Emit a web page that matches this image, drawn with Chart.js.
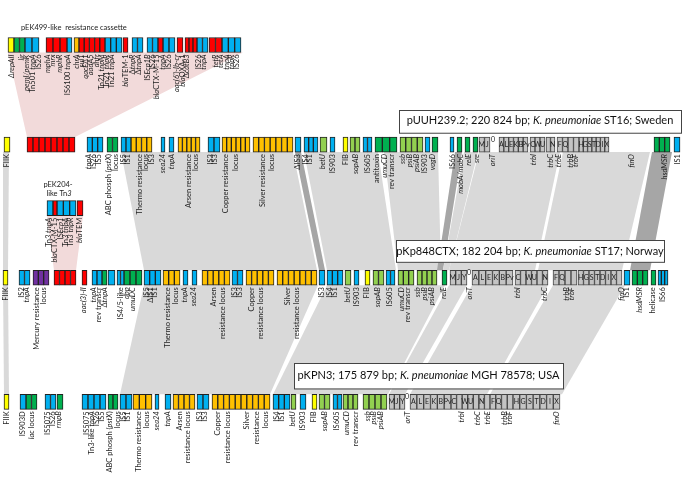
<!DOCTYPE html>
<html>
<head>
<meta charset="utf-8">
<script src="https://cdn.jsdelivr.net/npm/chart.js@4/dist/chart.umd.min.js"></script>
<style>body{margin:0;background:#fff}</style>
</head>
<body>
<canvas id="myChart" width="683" height="490"></canvas>
<script>
// rows of the map (y) and positions along the map (x)
var trackY = {cassette: 25, track1: 134.5, tn3: 204.5, track2: 281, track3: 417.5};
var BOX_H = 15;
var FONT = 'Lato, "Open Sans", sans-serif';

// gene boxes: [start, end, number of boxes, type]
var cassetteBoxes = [
  [8, 14, 1, 'yellow'], [14, 25, 2, 'green'], [25, 39, 2, 'blue'],
  [46, 67, 3, 'red'], [67, 72, 1, 'blue'], [74, 79, 1, 'orange'], [79, 105, 5, 'red'],
  [105, 122, 3, 'blue'], [123, 128, 1, 'red'], [132, 143, 2, 'blue'],
  [147, 158, 2, 'blue'], [158, 163, 1, 'red'], [163, 175, 2, 'blue'], [177, 183, 1, 'red'],
  [185, 197, 3, 'red'], [197, 208, 2, 'blue'], [209, 222, 2, 'red'], [222, 241, 3, 'blue']
];
var tn3Boxes = [
  [47, 53, 1, 'blue'], [53, 57, 1, 'red'], [57, 76, 3, 'blue'], [77, 83, 1, 'red']
];
var track1Boxes = [
  [4, 10, 1, 'yellow'], [27, 75, 8, 'red'], [87, 103, 3, 'blue'], [107, 118, 2, 'green'],
  [121, 131, 2, 'blue'], [131, 152, 4, 'orange'], [161, 165, 1, 'blue'], [169, 174, 1, 'blue'],
  [178, 200, 5, 'orange'], [208, 220, 2, 'blue'], [222, 250, 6, 'orange'], [253, 293, 7, 'orange'],
  [295, 301, 1, 'blue'], [304, 318, 3, 'blue'], [320, 327, 1, 'lgreen'], [330, 335, 1, 'blue'],
  [343, 348, 1, 'yellow'], [350, 360, 2, 'lgreen'], [363, 372, 2, 'blue'], [375, 397, 3, 'green'],
  [400, 423, 4, 'lgreen'], [425, 430, 1, 'blue'], [432, 438, 1, 'green'], [450, 454, 1, 'blue'],
  [457, 462, 1, 'green'], [465, 470, 1, 'green'], [473, 478, 1, 'green'],
  [654, 670, 3, 'green'], [674, 680, 1, 'blue']
];
var track2Boxes = [
  [3, 8, 1, 'yellow'], [19, 30, 2, 'blue'], [33, 49, 3, 'purple'], [54, 76, 4, 'red'],
  [82, 87, 1, 'red'], [92, 102, 2, 'blue'], [102, 107, 1, 'green'], [108, 115, 1, 'blue'],
  [117, 124, 2, 'blue'], [124, 142, 3, 'green'], [144, 161, 3, 'blue'], [163, 180, 3, 'orange'],
  [183, 188, 1, 'blue'], [192, 197, 1, 'blue'], [202, 230, 5, 'orange'], [232, 243, 2, 'blue'],
  [246, 274, 5, 'orange'], [277, 317, 7, 'orange'], [319, 325, 1, 'blue'], [327, 343, 3, 'blue'],
  [345, 351, 1, 'lgreen'], [354, 359, 1, 'blue'], [365, 370, 1, 'yellow'], [373, 384, 2, 'lgreen'],
  [386, 395, 2, 'blue'], [398, 414, 3, 'lgreen'], [417, 437, 4, 'lgreen'], [442, 447, 1, 'green'],
  [624, 630, 1, 'blue'], [632, 648, 3, 'green'], [651, 656, 1, 'green'], [658, 668, 3, 'blue']
];
var track3Boxes = [
  [4, 9, 1, 'yellow'], [20, 26, 1, 'blue'], [26, 37, 2, 'green'], [45, 56, 2, 'blue'],
  [57, 63, 1, 'green'], [82, 106, 4, 'blue'], [108, 118, 2, 'green'], [120, 132, 2, 'blue'],
  [133, 152, 3, 'orange'], [155, 159, 1, 'blue'], [165, 171, 1, 'blue'], [173, 195, 4, 'orange'],
  [197, 209, 2, 'blue'], [212, 270, 10, 'orange'], [273, 290, 3, 'blue'], [291, 296, 1, 'lgreen'],
  [300, 306, 1, 'blue'], [312, 317, 1, 'yellow'], [319, 330, 2, 'lgreen'], [333, 342, 2, 'blue'],
  [343, 358, 3, 'lgreen'], [363, 387, 4, 'lgreen']
];

// tra genes: [start, end, letters]
var track1Tra = [
  [479, 490, ['M', 'J']], [499, 528, ['A', 'L', 'E', 'K', 'B', 'Pv']], [530, 545, ['C', 'W', 'U']],
  [546, 555, ['', 'N']], [557, 568, ['F', 'Q']], [568, 579, ['', '']],
  [579, 609, ['H', 'G', 'S', 'T', 'D', 'I', 'X']]
];
var track2Tra = [
  [450, 467, ['M', 'J', 'Y']], [472, 513, ['A', 'L', 'E', 'K', 'B', 'Pv']], [515, 548, ['C', '', 'W', 'U', '', 'N']],
  [553, 577, ['F', 'Q', '', '']], [578, 622, ['H', 'G', 'S', 'T', 'D', 'I', 'X', '']]
];
var track3Tra = [
  [389, 405, ['M', 'J', 'Y']], [410, 451, ['A', 'L', 'E', 'K', 'B', 'Pv']], [451, 490, ['C', '', 'W', 'U', '', 'N', '']],
  [490, 513, ['F', 'Q', '', '']], [513, 560, ['H', 'G', 'S', 'T', 'D', 'I', 'X']]
];
var oriMarks = [['track1', 493], ['track2', 469], ['track3', 407]];

// labels under boxes: [position, text], *...* = italic
var cassetteLabels = [
  [12, '*ΔrepAII*'], [22, '*lir*'], [27, '*pemI/pemK*'], [33, 'Tn501 *tnpA*'], [39, 'IS26'],
  [48, '*mphA*'], [53, '*mrx*'], [60, '*mphR*'], [68, 'IS6100 *tnpA*'], [77, '*chrA*'],
  [82, '*sul1*'], [86, '*qacEΔ1*'], [91, '*aadA5*'], [97, '*dhfr*'], [102, 'Tn21 *tnpM*'],
  [107, 'Tn21 *tnpR*'], [112, 'Tn21 *tnpA*'], [126, '*bla*TEM-1'], [133, 'Δ*tnpR*'], [139, 'Δ*tnpA*'],
  [148, 'IS*Ecp1B*'], [153, 'IS26'], [157, '*bla*CTX-M-15'], [163, '*tnpA*'], [169, 'IS26'],
  [177, "*aac(6')-Ib-cr*"], [183, '*bla*OXA-1'], [187, 'Δ*catB3*'], [199, 'IS26'], [204, '*tnpA*'],
  [216, '*tetR*'], [221, '*tetA*'], [227, '*tnpA*'], [232, '*tnpR*'], [237, 'IS26']
];
var tn3Labels = [
  [49, 'Tn*3 tnpA*'], [55, '*bla*CTX-M-15'], [61, 'IS*Ecp1*'], [66, 'Tn*3 tnpA*'], [71, 'Tn*3 tnpR*'], [80, '*bla*TEM']
];
var track1Labels = [
  [7, 'FIIK'], [89, '*tnpA*'], [94, 'IS26'], [99, 'IS5'], [109, 'ABC phosph (*pstX*)'], [116, 'locus'],
  [124, 'IS5'], [128, 'IS1'], [140, 'Thermo resistance'], [146, 'locus'], [152, 'IS3'], [163, '*sea24*'],
  [172, '*tnpA*'], [189, 'Arsen resistance'], [196, 'locus'], [211, 'IS3'], [215, 'IS3'],
  [226, 'Copper resistance'], [236, 'locus'], [263, 'Silver resistance'], [272, 'locus'], [298, 'ΔIS3'],
  [306, 'IS4'], [310, 'IS1'], [323, '*betU*'], [333, 'IS903'], [346, 'FIB'], [356, '*sopAB*'],
  [368, 'IS605'], [377, 'antitoxin'], [385, '*umuCD*'], [392, 'rev transcr'], [403, '*ssb*'],
  [410, '*psiB*'], [417, '*psiAB*'], [425, 'IS903'], [433, '*vagD*'], [453, 'IS66'], [461, '*mobA/mobC*'],
  [469, '*relE*'], [477, '*sre*'], [493, '*oriT*'], [534, '*trbI*'], [551, '*trbC*'], [559, '*trbE*'],
  [571, '*trbB*'], [576, '*trbF*'], [632, '*finO*'], [665, '*hsdMSR*'], [678, 'IS1']
];
var track2Labels = [
  [6, 'FIIK'], [22, 'IS2'], [27, '*tnpA*'], [37, 'Mercury resistance'], [44, 'locus'], [84, '*aac(3)-II*'],
  [94, '*tnpA*'], [99, 'rev transcr'], [105, 'Δ*tnpA*'], [121, 'IS4/5-like'], [127, '*dbp*'], [133, '*umuDC*'],
  [147, 'IS5'], [151, 'ΔIS1'], [155, 'IS1'], [168, 'Thermo resistance'], [176, 'locus'], [185, '*tnpA*'],
  [194, '*sea24*'], [214, 'Arsen'], [223, 'resistance locus'], [235, 'IS3'], [240, 'IS3'], [252, 'Copper'],
  [261, 'resistance locus'], [288, 'Silver'], [297, 'resistance locus'], [322, 'IS3'], [330, 'IS4'],
  [335, 'IS1'], [348, '*betU*'], [357, 'IS903'], [367, 'FIB'], [378, '*sopAB*'], [390, 'IS605'],
  [402, '*umuCD*'], [408, 'rev transcr'], [418, '*ssb*'], [425, '*psiB*'], [432, '*psiAB*'], [444, '*relE*'],
  [470, '*oriT*'], [518, '*trbI*'], [545, '*trbC*'], [567, '*trbB*'], [572, '*trbF*'], [622, '*finO*'],
  [627, 'IS1'], [640, '*hsdMSR*'], [653, 'helicase'], [663, 'IS66']
];
var track3Labels = [
  [7, 'FIIK'], [23, 'IS903D'], [32, '*lac* locus'], [48, 'IS5075'], [53, 'IS26'], [59, '*rmpB*'],
  [87, 'IS5075'], [92, 'Tn3-like *tnpA*'], [97, 'IS26'], [102, 'IS5'], [110, 'ABC phosph (*pstX*)'],
  [118, 'locus'], [124, 'IS5'], [128, 'IS1'], [139, 'Thermo resistance'], [147, 'locus'], [157, '*sea24*'],
  [168, '*tnpA*'], [180, 'Arsen'], [188, 'resistance locus'], [200, 'IS3'], [205, 'IS3'], [218, 'Copper'],
  [228, 'resistance locus'], [247, 'Silver'], [257, 'resistance'], [266, 'locus'], [277, 'IS4'], [282, 'IS1'],
  [293, '*betU*'], [303, 'IS903'], [314, 'FIB'], [325, '*sopAB*'], [337, 'IS605'], [347, '*umuCD*'],
  [356, 'rev transcr'], [368, '*ssb*'], [374, '*psiB*'], [381, '*psiAB*'], [408, '*oriT*'], [462, '*trbI*'],
  [478, '*trbC*'], [488, '*trbE*'], [505, '*trbB*'], [510, '*trbF*'], [557, '*finO*']
];

// homology blocks: [upper row, start, end, lower row, start, end, shade]
var links = [
  ['cassette', 8, 243, 'track1', 27, 75, 'pink'],
  ['tn3', 47, 83, 'track2', 54, 76, 'pink'],
  ['track1', 3, 9, 'track2', 3, 8, 'light'],
  ['track1', 121, 293, 'track2', 144, 317, 'light'],
  ['track1', 295, 301, 'track2', 319, 325, 'dark'],
  ['track1', 304, 378, 'track2', 327, 396, 'light'],
  ['track1', 384, 438, 'track2', 398, 441, 'light'],
  ['track1', 455, 462, 'track2', 437, 443, 'dark'],
  ['track1', 464, 478, 'track2', 443, 449, 'light'],
  ['track1', 479, 560, 'track2', 449, 535, 'light'],
  ['track1', 563, 650, 'track2', 538, 622, 'light'],
  ['track1', 652, 672, 'track2', 630, 650, 'dark'],
  ['track2', 3, 8, 'track3', 4, 9, 'light'],
  ['track2', 144, 318, 'track3', 120, 270, 'light'],
  ['track2', 327, 445, 'track3', 273, 388, 'light'],
  ['track2', 449, 467, 'track3', 389, 405, 'light'],
  ['track2', 472, 548, 'track3', 410, 487, 'light'],
  ['track2', 553, 625, 'track3', 490, 562, 'light']
];

// plasmid name boxes: [x1, y1, x2, y2, text]
var plasmidTitles = [
  [399, 96, 681, 121, 'pUUH239.2; 220 824 bp; *K. pneumoniae* ST16; Sweden'],
  [396, 240, 664, 264, 'pKp848CTX; 182 204 bp; *K. pneumoniae* ST17; Norway'],
  [294, 375, 563, 403, 'pKPN3; 175 879 bp; *K. pneumoniae* MGH 78578; USA']
];

var typeColors = {
  red: '#ff0000', blue: '#00b0f0', green: '#00b050', lgreen: '#92d050',
  orange: '#ffc000', yellow: '#ffff00', purple: '#7030a0', gray: '#c4c4c4'
};
var shadeColors = {pink: '#f2dada', light: '#d9d9d9', dark: '#a6a6a6'};

var boxData = {};
Object.keys(typeColors).forEach(function (k) { boxData[k] = []; });
function addBoxes(list, row) {
  list.forEach(function (b) {
    var w = (b[1] - b[0]) / b[2];
    for (var i = 0; i < b[2]; i++) {
      boxData[b[3]].push({x: [b[0] + i * w, b[0] + (i + 1) * w], y: trackY[row]});
    }
  });
}
function addTra(list, row) {
  list.forEach(function (g) {
    addBoxes([[g[0], g[1], g[2].length, 'gray']], row);
  });
}
addBoxes(cassetteBoxes, 'cassette');
addBoxes(tn3Boxes, 'tn3');
addBoxes(track1Boxes, 'track1');
addBoxes(track2Boxes, 'track2');
addBoxes(track3Boxes, 'track3');
addTra(track1Tra, 'track1');
addTra(track2Tra, 'track2');
addTra(track3Tra, 'track3');

var datasets = Object.keys(typeColors).map(function (k) {
  return {
    label: k,
    data: boxData[k],
    backgroundColor: typeColors[k],
    borderColor: k === 'gray' ? '#444' : '#222',
    borderWidth: 1,
    borderSkipped: false,
    barThickness: BOX_H,
    grouped: false
  };
});

// draws mixed upright/italic text, split on '*'
function richText(ctx, str, size, align, x, y) {
  var parts = str.split('*');
  var widths = parts.map(function (p, i) {
    ctx.font = (i % 2 ? 'italic ' : '') + size + 'px ' + FONT;
    return ctx.measureText(p).width;
  });
  var total = widths.reduce(function (a, b) { return a + b; }, 0);
  var start = align === 'right' ? x - total : align === 'center' ? x - total / 2 : x;
  parts.forEach(function (p, i) {
    ctx.font = (i % 2 ? 'italic ' : '') + size + 'px ' + FONT;
    ctx.fillText(p, start, y);
    start += widths[i];
  });
}

var mapPlugin = {
  id: 'plasmidMap',
  beforeDatasetsDraw: function (chart) {
    var ctx = chart.ctx, xs = chart.scales.x, ys = chart.scales.y;
    ctx.save();
    links.forEach(function (l) {
      var top = ys.getPixelForValue(trackY[l[0]]) + BOX_H / 2;
      var bot = ys.getPixelForValue(trackY[l[3]]) - BOX_H / 2;
      ctx.fillStyle = shadeColors[l[6]];
      ctx.beginPath();
      ctx.moveTo(xs.getPixelForValue(l[1]), top);
      ctx.lineTo(xs.getPixelForValue(l[2]), top);
      ctx.lineTo(xs.getPixelForValue(l[5]), bot);
      ctx.lineTo(xs.getPixelForValue(l[4]), bot);
      ctx.closePath();
      ctx.fill();
    });
    // gene labels
    ctx.fillStyle = '#222';
    ctx.textBaseline = 'middle';
    [[cassetteLabels, 'cassette'], [tn3Labels, 'tn3'], [track1Labels, 'track1'],
     [track2Labels, 'track2'], [track3Labels, 'track3']].forEach(function (set) {
      var y0 = ys.getPixelForValue(trackY[set[1]]) + BOX_H / 2 + 2;
      set[0].forEach(function (lb) {
        ctx.save();
        ctx.translate(xs.getPixelForValue(lb[0]), y0);
        ctx.rotate(-Math.PI / 2);
        richText(ctx, lb[1], 7.5, 'right', 0, 0);
        ctx.restore();
      });
    });
    ctx.restore();
  },
  afterDatasetsDraw: function (chart) {
    var ctx = chart.ctx, xs = chart.scales.x, ys = chart.scales.y;
    ctx.save();
    ctx.fillStyle = '#222';
    ctx.textBaseline = 'middle';
    // letters inside the tra boxes
    [[track1Tra, 'track1'], [track2Tra, 'track2'], [track3Tra, 'track3']].forEach(function (set) {
      var yc = ys.getPixelForValue(trackY[set[1]]);
      set[0].forEach(function (g) {
        var w = (g[1] - g[0]) / g[2].length;
        g[2].forEach(function (t, i) {
          if (t) richText(ctx, t, 7, 'center', xs.getPixelForValue(g[0] + (i + 0.5) * w), yc);
        });
      });
    });
    oriMarks.forEach(function (m) {
      richText(ctx, '0', 7, 'center', xs.getPixelForValue(m[1]), ys.getPixelForValue(trackY[m[0]]) - 5);
    });
    // plasmid name boxes
    plasmidTitles.forEach(function (t) {
      var x1 = xs.getPixelForValue(t[0]), x2 = xs.getPixelForValue(t[2]);
      var y1 = ys.getPixelForValue(t[1]), y2 = ys.getPixelForValue(t[3]);
      ctx.fillStyle = '#fff';
      ctx.fillRect(x1, y1, x2 - x1, y2 - y1);
      ctx.strokeStyle = '#444';
      ctx.lineWidth = 1;
      ctx.strokeRect(Math.round(x1) + 0.5, Math.round(y1) + 0.5, x2 - x1, y2 - y1);
      ctx.fillStyle = '#111';
      richText(ctx, t[4], 11, 'center', (x1 + x2) / 2, (y1 + y2) / 2);
    });
    // inset titles
    ctx.fillStyle = '#222';
    richText(ctx, 'pEK499-like  resistance cassette', 7.5, 'left', xs.getPixelForValue(21), ys.getPixelForValue(6));
    richText(ctx, 'pEK204-', 7.5, 'center', xs.getPixelForValue(58), ys.getPixelForValue(178));
    richText(ctx, 'like Tn*3*', 7.5, 'center', xs.getPixelForValue(59), ys.getPixelForValue(188));
    ctx.restore();
  }
};

var ctx = document.getElementById('myChart').getContext('2d');
var chart = new Chart(ctx, {
  type: 'bar',
  data: {datasets: datasets},
  options: {
    indexAxis: 'y',
    responsive: false,
    animation: false,
    layout: {padding: 0},
    plugins: {legend: {display: false}, tooltip: {enabled: false}},
    scales: {
      x: {type: 'linear', min: 0, max: 683, display: false},
      y: {type: 'linear', min: 0, max: 490, reverse: true, display: false}
    }
  },
  plugins: [mapPlugin]
});
</script>
</body>
</html>
